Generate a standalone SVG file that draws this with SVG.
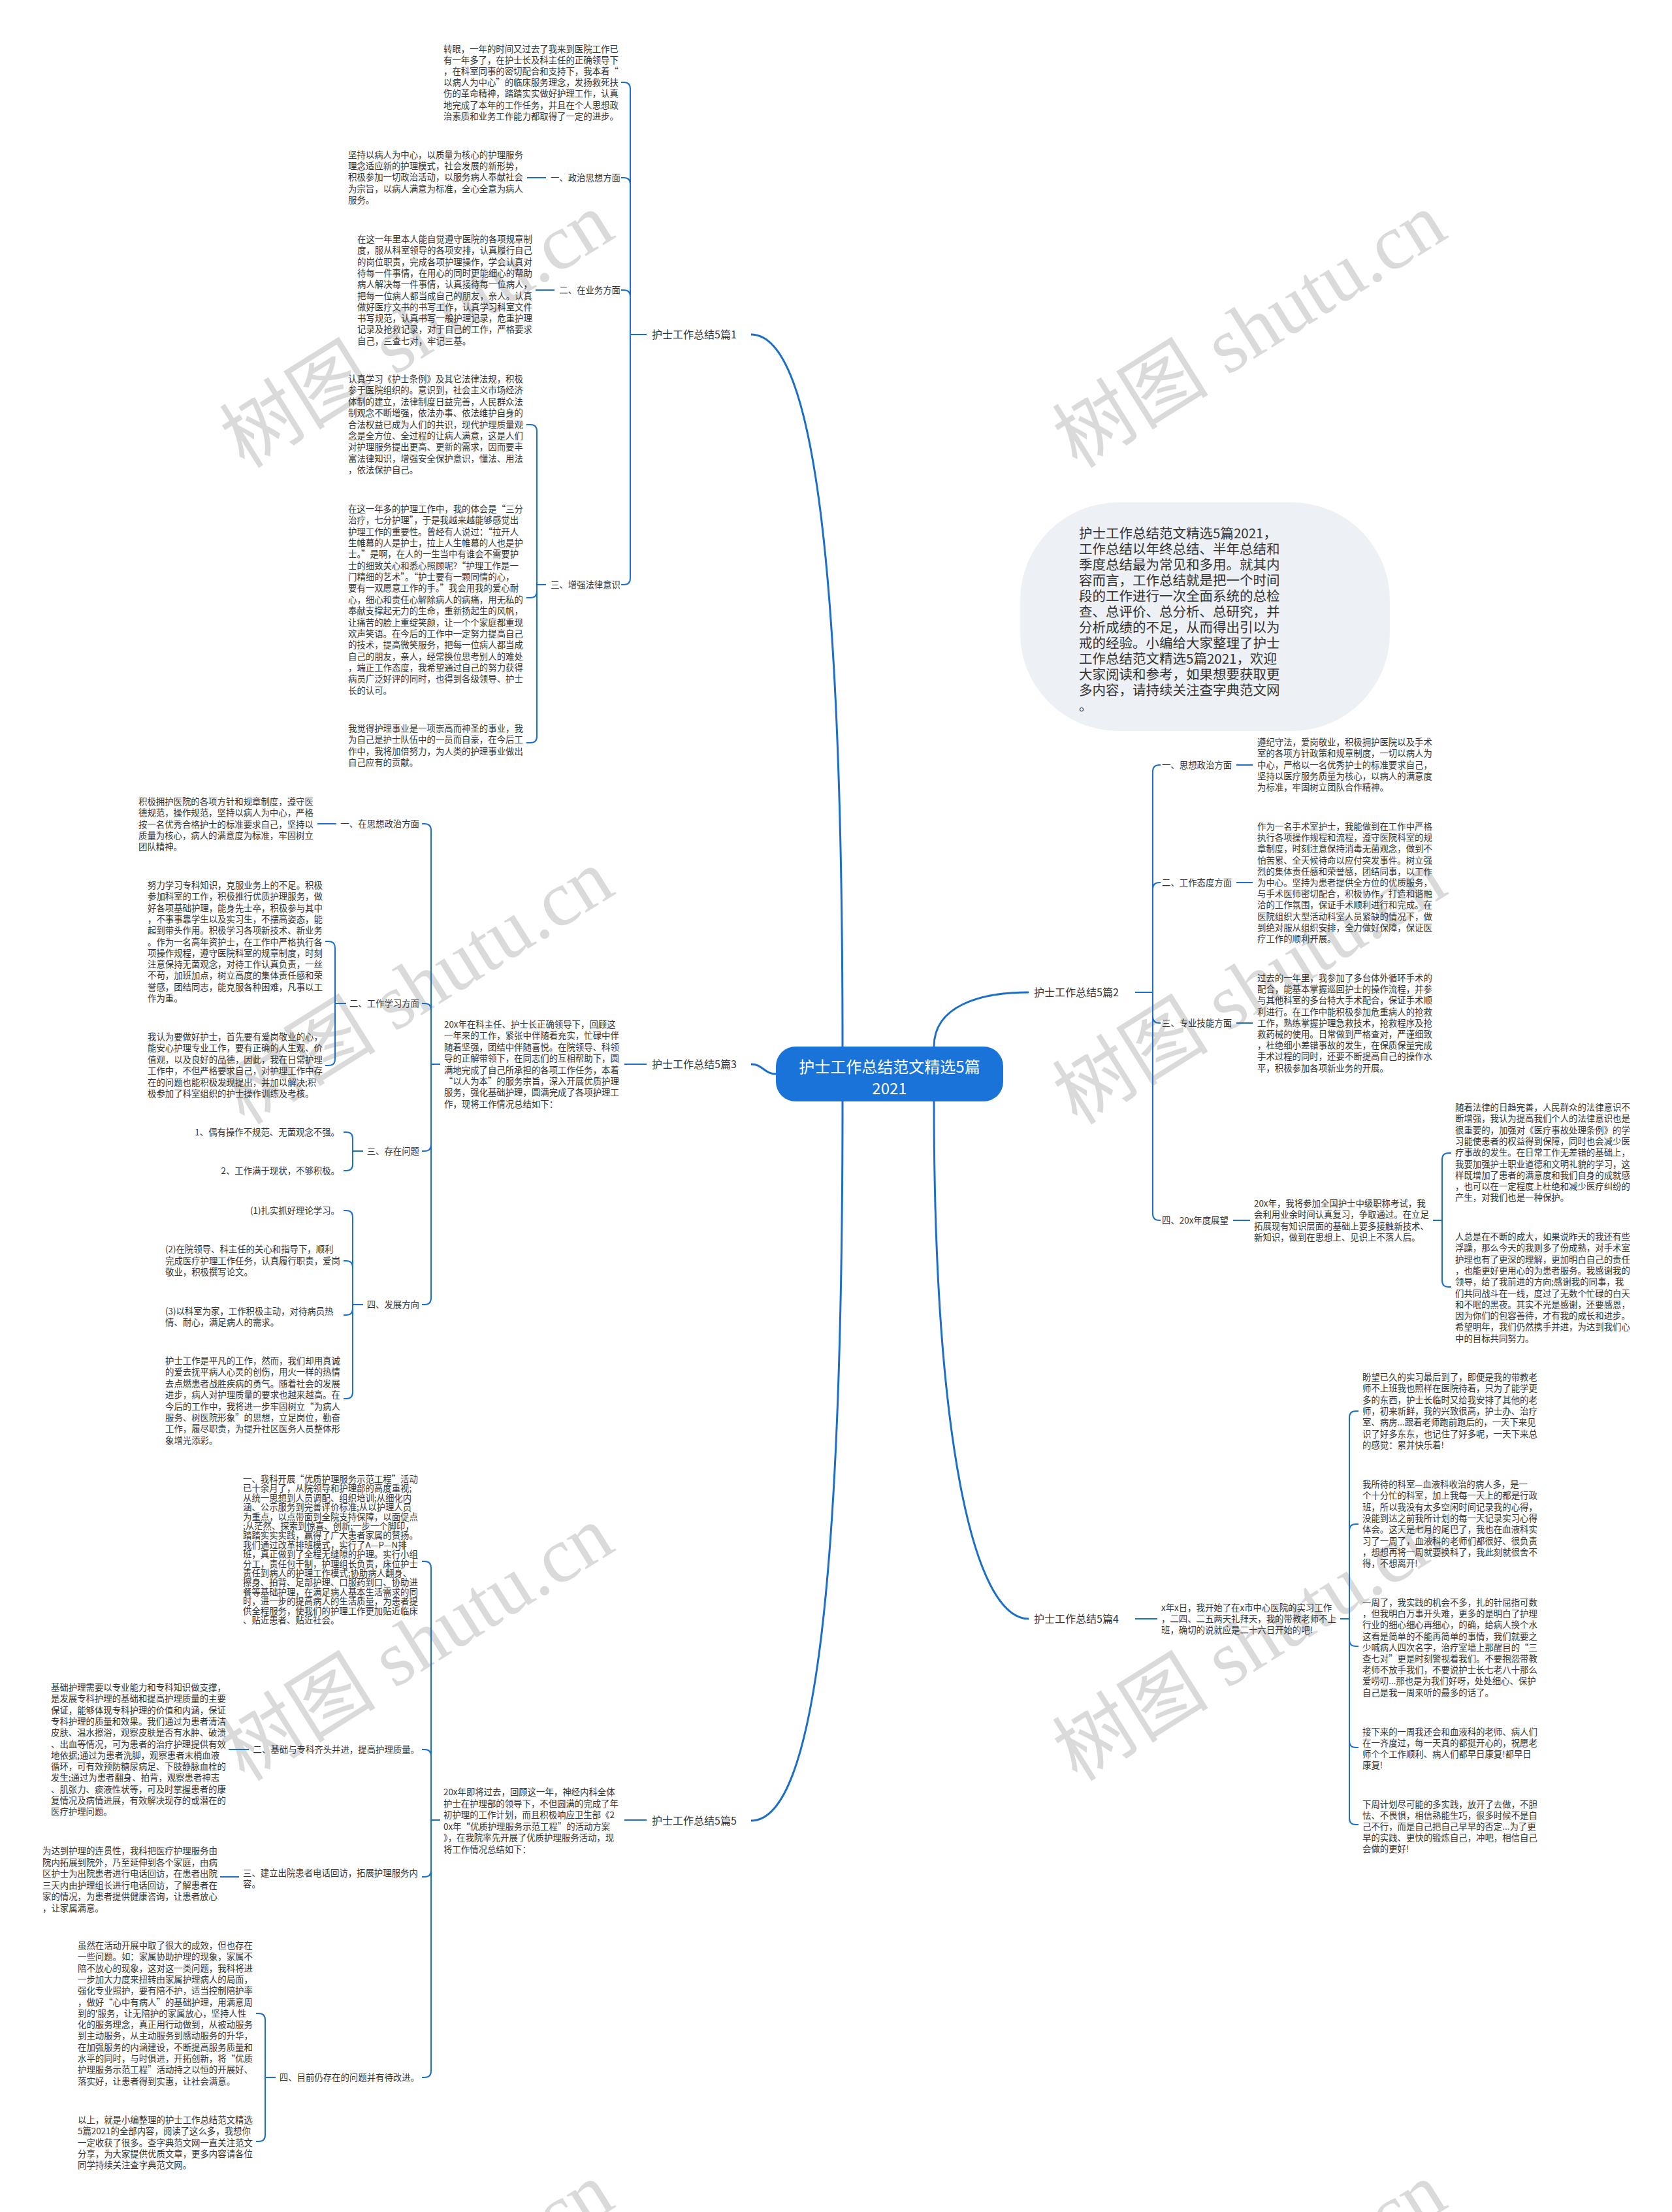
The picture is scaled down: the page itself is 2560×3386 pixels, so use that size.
<svg xmlns="http://www.w3.org/2000/svg" width="2560" height="3386" viewBox="0 0 2560 3386">
<style>
.t{font-family:"Noto Sans CJK SC","Liberation Sans",sans-serif;font-size:13.4px;fill:#333}
.e{text-anchor:end}
.b{font-family:"Noto Sans CJK SC","Liberation Sans",sans-serif;font-size:16px;fill:#333}
.w{font-family:"Liberation Serif","Noto Sans CJK SC",serif;font-size:120px;fill:#dadada;text-anchor:middle}
.c{fill:none;stroke:#1b6fc8;stroke-width:2}
.m{fill:none;stroke:#1b6fc8;stroke-width:3}
</style>
<rect width="2560" height="3386" fill="#ffffff"/>
<g id="watermarks">
<text class="w" transform="translate(660,540) rotate(-32)">树图 shutu.cn</text>
<text class="w" transform="translate(1935,540) rotate(-32)">树图 shutu.cn</text>
<text class="w" transform="translate(660,1545) rotate(-32)">树图 shutu.cn</text>
<text class="w" transform="translate(1935,1545) rotate(-32)">树图 shutu.cn</text>
<text class="w" transform="translate(660,2550) rotate(-32)">树图 shutu.cn</text>
<text class="w" transform="translate(1935,2550) rotate(-32)">树图 shutu.cn</text>
<text class="w" transform="translate(660,3555) rotate(-32)">树图 shutu.cn</text>
<text class="w" transform="translate(1935,3555) rotate(-32)">树图 shutu.cn</text>
</g>
<g id="connectors">
<path class="m" d="M1290,1602C1290,900 1250,512 1150,512"/>
<path class="m" d="M1188,1644C1170,1644 1168,1629 1150,1629"/>
<path class="m" d="M1290,1686C1290,2400 1250,2787 1150,2787"/>
<path class="m" d="M1430,1602C1430,1540 1500,1519 1575,1519"/>
<path class="m" d="M1430,1686C1430,2200 1490,2478 1575,2478"/>
<path class="c" d="M990,512H965V136Q965,126 955,126H951"/>
<path class="c" d="M990,512H965V282Q965,272 955,272H951"/>
<path class="c" d="M990,512H965V454Q965,444 955,444H951"/>
<path class="c" d="M990,512H965V885Q965,895 955,895H951"/>
<path class="c" d="M836,272H807"/>
<path class="c" d="M849,444H820"/>
<path class="c" d="M836,895H822V660Q822,650 812,650H806"/>
<path class="c" d="M836,895H822V905Q822,915 812,915H806"/>
<path class="c" d="M836,895H822V1127Q822,1137 812,1137H806"/>
<path class="c" d="M1738,1519H1765V1181Q1765,1171 1775,1171H1777"/>
<path class="c" d="M1738,1519H1765V1361Q1765,1351 1775,1351H1777"/>
<path class="c" d="M1738,1519H1765V1556Q1765,1566 1775,1566H1777"/>
<path class="c" d="M1738,1519H1765V1858Q1765,1868 1775,1868H1777"/>
<path class="c" d="M1893,1171H1918"/>
<path class="c" d="M1893,1351H1918"/>
<path class="c" d="M1893,1566H1918"/>
<path class="c" d="M1888,1868H1914"/>
<path class="c" d="M2194,1868H2208V1775Q2208,1765 2218,1765H2222"/>
<path class="c" d="M2194,1868H2208V1960Q2208,1970 2218,1970H2222"/>
<path class="c" d="M990,1629H956"/>
<path class="c" d="M674,1629H660V1271Q660,1261 650,1261H646"/>
<path class="c" d="M674,1629H660V1546Q660,1536 650,1536H646"/>
<path class="c" d="M674,1629H660V1752Q660,1762 650,1762H646"/>
<path class="c" d="M674,1629H660V1987Q660,1997 650,1997H646"/>
<path class="c" d="M515,1261H486"/>
<path class="c" d="M530,1536H513V1451Q513,1441 503,1441H498"/>
<path class="c" d="M530,1536H513V1621Q513,1631 503,1631H498"/>
<path class="c" d="M556,1762H540V1743Q540,1733 530,1733H526"/>
<path class="c" d="M556,1762H540V1782Q540,1792 530,1792H526"/>
<path class="c" d="M556,1997H540V1863Q540,1853 530,1853H526"/>
<path class="c" d="M556,1997H540V1940Q540,1930 530,1930H526"/>
<path class="c" d="M556,1997H540V2003Q540,2013 530,2013H526"/>
<path class="c" d="M556,1997H540V2131Q540,2141 530,2141H526"/>
<path class="c" d="M1738,2478H1772"/>
<path class="c" d="M2052,2478H2066V2170Q2066,2160 2076,2160H2080"/>
<path class="c" d="M2052,2478H2066V2343Q2066,2333 2076,2333H2080"/>
<path class="c" d="M2052,2478H2066V2510Q2066,2520 2076,2520H2080"/>
<path class="c" d="M2052,2478H2066V2665Q2066,2675 2076,2675H2080"/>
<path class="c" d="M2052,2478H2066V2783Q2066,2793 2076,2793H2080"/>
<path class="c" d="M990,2786H956"/>
<path class="c" d="M674,2786H660V2400Q660,2390 650,2390H646"/>
<path class="c" d="M674,2786H660V2688Q660,2678 650,2678H646"/>
<path class="c" d="M674,2786H660V2863Q660,2873 650,2873H646"/>
<path class="c" d="M674,2786H660V3170Q660,3180 650,3180H646"/>
<path class="c" d="M381,2678H350"/>
<path class="c" d="M366,2873H337"/>
<path class="c" d="M422,3180H406V3092Q406,3082 396,3082H392"/>
<path class="c" d="M422,3180H406V3268Q406,3278 396,3278H392"/>
</g>
<g id="center">
<rect x="1188" y="1602" width="348" height="84" rx="30" fill="#1a73d9"/>
<text x="1362" y="1642" text-anchor="middle" style="font-family:'Noto Sans CJK SC',sans-serif;font-size:24px;fill:#fff">护士工作总结范文精选5篇</text>
<text x="1362" y="1675" text-anchor="middle" style="font-family:'Noto Sans CJK SC',sans-serif;font-size:24px;fill:#fff">2021</text>
</g>
<g id="intro">
<rect x="1562" y="769" width="566" height="350" rx="150" ry="150" fill="#edf0f4"/>
<text x="1652" y="824" style="font-family:'Noto Sans CJK SC',sans-serif;font-size:20.5px;fill:#333"><tspan x="1652">护士工作总结范文精选5篇2021，</tspan><tspan x="1652" dy="24">工作总结以年终总结、半年总结和</tspan><tspan x="1652" dy="24">季度总结最为常见和多用。就其内</tspan><tspan x="1652" dy="24">容而言，工作总结就是把一个时间</tspan><tspan x="1652" dy="24">段的工作进行一次全面系统的总检</tspan><tspan x="1652" dy="24">查、总评价、总分析、总研究，并</tspan><tspan x="1652" dy="24">分析成绩的不足，从而得出引以为</tspan><tspan x="1652" dy="24">戒的经验。小编给大家整理了护士</tspan><tspan x="1652" dy="24">工作总结范文精选5篇2021，欢迎</tspan><tspan x="1652" dy="24">大家阅读和参考，如果想要获取更</tspan><tspan x="1652" dy="24">多内容，请持续关注查字典范文网</tspan><tspan x="1652" dy="24">。</tspan></text>
</g>
<g id="branch1"><text class="b" x="998" y="518">护士工作总结5篇1</text></g>
<g id="b1-intro"><text class="t" x="679" y="80"><tspan x="679">转眼，一年的时间又过去了我来到医院工作已</tspan><tspan x="679" dy="17.1">有一年多了，在护士长及科主任的正确领导下</tspan><tspan x="679" dy="17.1">，在科室同事的密切配合和支持下，我本着“</tspan><tspan x="679" dy="17.1">以病人为中心”的临床服务理念，发扬救死扶</tspan><tspan x="679" dy="17.1">伤的革命精神，踏踏实实做好护理工作，认真</tspan><tspan x="679" dy="17.1">地完成了本年的工作任务，并且在个人思想政</tspan><tspan x="679" dy="17.1">治素质和业务工作能力都取得了一定的进步。</tspan></text></g>
<g id="b1-1"><text class="t e" x="950" y="277">一、政治思想方面</text></g>
<g id="b1-1t"><text class="t" x="533" y="242"><tspan x="533">坚持以病人为中心，以质量为核心的护理服务</tspan><tspan x="533" dy="17.2">理念适应新的护理模式，社会发展的新形势，</tspan><tspan x="533" dy="17.2">积极参加一切政治活动，以服务病人奉献社会</tspan><tspan x="533" dy="17.2">为宗旨，以病人满意为标准，全心全意为病人</tspan><tspan x="533" dy="17.2">服务。</tspan></text></g>
<g id="b1-2"><text class="t e" x="950" y="449">二、在业务方面</text></g>
<g id="b1-2t"><text class="t" x="547" y="371"><tspan x="547">在这一年里本人能自觉遵守医院的各项规章制</tspan><tspan x="547" dy="17.3">度，服从科室领导的各项安排，认真履行自己</tspan><tspan x="547" dy="17.3">的岗位职责，完成各项护理操作，学会认真对</tspan><tspan x="547" dy="17.3">待每一件事情，在用心的同时更能细心的帮助</tspan><tspan x="547" dy="17.3">病人解决每一件事情，认真接待每一位病人，</tspan><tspan x="547" dy="17.3">把每一位病人都当成自己的朋友，亲人。认真</tspan><tspan x="547" dy="17.3">做好医疗文书的书写工作，认真学习科室文件</tspan><tspan x="547" dy="17.3">书写规范，认真书写一般护理记录，危重护理</tspan><tspan x="547" dy="17.3">记录及抢救记录，对于自己的工作，严格要求</tspan><tspan x="547" dy="17.3">自己，三查七对，牢记三基。</tspan></text></g>
<g id="b1-3"><text class="t e" x="950" y="900">三、增强法律意识</text></g>
<g id="b1-3a"><text class="t" x="533" y="585"><tspan x="533">认真学习《护士条例》及其它法律法规，积极</tspan><tspan x="533" dy="17.4">参于医院组织的。意识到，社会主义市场经济</tspan><tspan x="533" dy="17.4">体制的建立，法律制度日益完善，人民群众法</tspan><tspan x="533" dy="17.4">制观念不断增强，依法办事、依法维护自身的</tspan><tspan x="533" dy="17.4">合法权益已成为人们的共识，现代护理质量观</tspan><tspan x="533" dy="17.4">念是全方位、全过程的让病人满意，这是人们</tspan><tspan x="533" dy="17.4">对护理服务提出更高、更新的需求，因而要丰</tspan><tspan x="533" dy="17.4">富法律知识，增强安全保护意识，懂法、用法</tspan><tspan x="533" dy="17.4">，依法保护自己。</tspan></text></g>
<g id="b1-3b"><text class="t" x="533" y="784"><tspan x="533">在这一年多的护理工作中，我的体会是“三分</tspan><tspan x="533" dy="17.35">治疗，七分护理”，于是我越来越能够感觉出</tspan><tspan x="533" dy="17.35">护理工作的重要性。曾经有人说过：“拉开人</tspan><tspan x="533" dy="17.35">生帷幕的人是护士，拉上人生帷幕的人也是护</tspan><tspan x="533" dy="17.35">士。”是啊，在人的一生当中有谁会不需要护</tspan><tspan x="533" dy="17.35">士的细致关心和悉心照顾呢?“护理工作是一</tspan><tspan x="533" dy="17.35">门精细的艺术”。“护士要有一颗同情的心，</tspan><tspan x="533" dy="17.35">要有一双愿意工作的手。”我会用我的爱心耐</tspan><tspan x="533" dy="17.35">心，细心和责任心解除病人的病痛，用无私的</tspan><tspan x="533" dy="17.35">奉献支撑起无力的生命，重新扬起生的风帆，</tspan><tspan x="533" dy="17.35">让痛苦的脸上重绽笑颜，让一个个家庭都重现</tspan><tspan x="533" dy="17.35">欢声笑语。在今后的工作中一定努力提高自己</tspan><tspan x="533" dy="17.35">的技术，提高微笑服务，把每一位病人都当成</tspan><tspan x="533" dy="17.35">自己的朋友，亲人，经常换位思考别人的难处</tspan><tspan x="533" dy="17.35">，端正工作态度，我希望通过自己的努力获得</tspan><tspan x="533" dy="17.35">病员广泛好评的同时，也得到各级领导、护士</tspan><tspan x="533" dy="17.35">长的认可。</tspan></text></g>
<g id="b1-3c"><text class="t" x="533" y="1120"><tspan x="533">我觉得护理事业是一项崇高而神圣的事业，我</tspan><tspan x="533" dy="17.3">为自己是护士队伍中的一员而自豪，在今后工</tspan><tspan x="533" dy="17.3">作中，我将加倍努力，为人类的护理事业做出</tspan><tspan x="533" dy="17.3">自己应有的贡献。</tspan></text></g>
<g id="branch2"><text class="b" x="1583" y="1525">护士工作总结5篇2</text></g>
<g id="b2-1"><text class="t" x="1779" y="1176">一、思想政治方面</text></g>
<g id="b2-1t"><text class="t" x="1925" y="1141"><tspan x="1925">遵纪守法，爱岗敬业，积极拥护医院以及手术</tspan><tspan x="1925" dy="17.3">室的各项方针政策和规章制度，一切以病人为</tspan><tspan x="1925" dy="17.3">中心，严格以一名优秀护士的标准要求自己，</tspan><tspan x="1925" dy="17.3">坚持以医疗服务质量为核心，以病人的满意度</tspan><tspan x="1925" dy="17.3">为标准，牢固树立团队合作精神。</tspan></text></g>
<g id="b2-2"><text class="t" x="1779" y="1356">二、工作态度方面</text></g>
<g id="b2-2t"><text class="t" x="1925" y="1270"><tspan x="1925">作为一名手术室护士，我能做到在工作中严格</tspan><tspan x="1925" dy="17.2">执行各项操作规程和流程，遵守医院科室的规</tspan><tspan x="1925" dy="17.2">章制度，时刻注意保持消毒无菌观念，做到不</tspan><tspan x="1925" dy="17.2">怕苦累、全天候待命以应付突发事件。树立强</tspan><tspan x="1925" dy="17.2">烈的集体责任感和荣誉感，团结同事，以工作</tspan><tspan x="1925" dy="17.2">为中心。坚持为患者提供全方位的优质服务，</tspan><tspan x="1925" dy="17.2">与手术医师密切配合，积极协作，打造和谐融</tspan><tspan x="1925" dy="17.2">洽的工作氛围，保证手术顺利进行和完成。在</tspan><tspan x="1925" dy="17.2">医院组织大型活动科室人员紧缺的情况下，做</tspan><tspan x="1925" dy="17.2">到绝对服从组织安排，全力做好保障，保证医</tspan><tspan x="1925" dy="17.2">疗工作的顺利开展。</tspan></text></g>
<g id="b2-3"><text class="t" x="1779" y="1571">三、专业技能方面</text></g>
<g id="b2-3t"><text class="t" x="1925" y="1502"><tspan x="1925">过去的一年里，我参加了多台体外循环手术的</tspan><tspan x="1925" dy="17.2">配合，能基本掌握巡回护士的操作流程，并参</tspan><tspan x="1925" dy="17.2">与其他科室的多台特大手术配合，保证手术顺</tspan><tspan x="1925" dy="17.2">利进行。在工作中能积极参加危重病人的抢救</tspan><tspan x="1925" dy="17.2">工作，熟练掌握护理急救技术，抢救程序及抢</tspan><tspan x="1925" dy="17.2">救药械的使用。日常做到严格查对，严谨细致</tspan><tspan x="1925" dy="17.2">，杜绝细小差错事故的发生，在保质保量完成</tspan><tspan x="1925" dy="17.2">手术过程的同时，还要不断提高自己的操作水</tspan><tspan x="1925" dy="17.2">平，积极参加各项新业务的开展。</tspan></text></g>
<g id="b2-4"><text class="t" x="1779" y="1873">四、20x年度展望</text></g>
<g id="b2-4t"><text class="t" x="1920" y="1847"><tspan x="1920">20x年，我将参加全国护士中级职称考试，我</tspan><tspan x="1920" dy="17.3">会利用业余时间认真复习，争取通过。在立足</tspan><tspan x="1920" dy="17.3">拓展现有知识层面的基础上要多接触新技术、</tspan><tspan x="1920" dy="17.3">新知识，做到在思想上、见识上不落人后。</tspan></text></g>
<g id="b2-4a"><text class="t" x="2228" y="1700"><tspan x="2228">随着法律的日趋完善，人民群众的法律意识不</tspan><tspan x="2228" dy="17.3">断增强，我认为提高我们个人的法律意识也是</tspan><tspan x="2228" dy="17.3">很重要的，加强对《医疗事故处理条例》的学</tspan><tspan x="2228" dy="17.3">习能使患者的权益得到保障，同时也会减少医</tspan><tspan x="2228" dy="17.3">疗事故的发生。在日常工作无差错的基础上，</tspan><tspan x="2228" dy="17.3">我要加强护士职业道德和文明礼貌的学习，这</tspan><tspan x="2228" dy="17.3">样既增加了患者的满意度和我们自身的成就感</tspan><tspan x="2228" dy="17.3">，也可以在一定程度上杜绝和减少医疗纠纷的</tspan><tspan x="2228" dy="17.3">产生，对我们也是一种保护。</tspan></text></g>
<g id="b2-4b"><text class="t" x="2228" y="1898"><tspan x="2228">人总是在不断的成大，如果说昨天的我还有些</tspan><tspan x="2228" dy="17.3">浮躁，那么今天的我则多了份成熟，对手术室</tspan><tspan x="2228" dy="17.3">护理也有了更深的理解，更加明白自己的责任</tspan><tspan x="2228" dy="17.3">，也能更好更用心的为患者服务。我感谢我的</tspan><tspan x="2228" dy="17.3">领导，给了我前进的方向;感谢我的同事，我</tspan><tspan x="2228" dy="17.3">们共同战斗在一线，度过了无数个忙碌的白天</tspan><tspan x="2228" dy="17.3">和不眠的黑夜。其实不光是感谢，还要感恩，</tspan><tspan x="2228" dy="17.3">因为你们的包容善待，才有我的成长和进步。</tspan><tspan x="2228" dy="17.3">希望明年，我们仍然携手并进，为达到我们心</tspan><tspan x="2228" dy="17.3">中的目标共同努力。</tspan></text></g>
<g id="branch3"><text class="b" x="998" y="1635">护士工作总结5篇3</text></g>
<g id="b3-main"><text class="t" x="680" y="1573"><tspan x="680">20x年在科主任、护士长正确领导下，回顾这</tspan><tspan x="680" dy="17.4">一年来的工作，紧张中伴随着充实，忙碌中伴</tspan><tspan x="680" dy="17.4">随着坚强，团结中伴随喜悦。在院领导、科领</tspan><tspan x="680" dy="17.4">导的正解带领下，在同志们的互相帮助下，圆</tspan><tspan x="680" dy="17.4">满地完成了自己所承担的各项工作任务，本着</tspan><tspan x="680" dy="17.4">“以人为本”的服务宗旨，深入开展优质护理</tspan><tspan x="680" dy="17.4">服务，强化基础护理，圆满完成了各项护理工</tspan><tspan x="680" dy="17.4">作，现将工作情况总结如下：</tspan></text></g>
<g id="b3-1"><text class="t e" x="642" y="1266">一、在思想政治方面</text></g>
<g id="b3-1t"><text class="t" x="212" y="1232"><tspan x="212">积极拥护医院的各项方针和规章制度，遵守医</tspan><tspan x="212" dy="17.3">德规范，操作规范，坚持以病人为中心，严格</tspan><tspan x="212" dy="17.3">按一名优秀合格护士的标准要求自己，坚持以</tspan><tspan x="212" dy="17.3">质量为核心，病人的满意度为标准，牢固树立</tspan><tspan x="212" dy="17.3">团队精神。</tspan></text></g>
<g id="b3-2"><text class="t e" x="642" y="1541">二、工作学习方面</text></g>
<g id="b3-2a"><text class="t" x="226" y="1360"><tspan x="226">努力学习专科知识，克服业务上的不足。积极</tspan><tspan x="226" dy="17.3">参加科室的工作，积极推行优质护理服务，做</tspan><tspan x="226" dy="17.3">好各项基础护理，能身先士卒，积极参与其中</tspan><tspan x="226" dy="17.3">，不事事靠学生以及实习生，不摆高姿态，能</tspan><tspan x="226" dy="17.3">起到带头作用。积极学习各项新技术、新业务</tspan><tspan x="226" dy="17.3">。作为一名高年资护士，在工作中严格执行各</tspan><tspan x="226" dy="17.3">项操作规程，遵守医院科室的规章制度，时刻</tspan><tspan x="226" dy="17.3">注意保持无菌观念，对待工作认真负责，一丝</tspan><tspan x="226" dy="17.3">不苟，加班加点，树立高度的集体责任感和荣</tspan><tspan x="226" dy="17.3">誉感，团结同志，能克服各种困难，凡事以工</tspan><tspan x="226" dy="17.3">作为重。</tspan></text></g>
<g id="b3-2b"><text class="t" x="226" y="1592"><tspan x="226">我认为要做好护士，首先要有爱岗敬业的心，</tspan><tspan x="226" dy="17.4">能安心护理专业工作，要有正确的人生观、价</tspan><tspan x="226" dy="17.4">值观，以及良好的品德，因此，我在日常护理</tspan><tspan x="226" dy="17.4">工作中，不但严格要求自己，对护理工作中存</tspan><tspan x="226" dy="17.4">在的问题也能积极发现提出，并加以解决;积</tspan><tspan x="226" dy="17.4">极参加了科室组织的护士操作训练及考核。</tspan></text></g>
<g id="b3-3"><text class="t e" x="642" y="1767">三、存在问题</text></g>
<g id="b3-3a"><text class="t e" x="520" y="1738">1、偶有操作不规范、无菌观念不强。</text></g>
<g id="b3-3b"><text class="t e" x="520" y="1797">2、工作满于现状，不够积极。</text></g>
<g id="b3-4"><text class="t e" x="642" y="2002">四、发展方向</text></g>
<g id="b3-4a"><text class="t e" x="520" y="1858">(1)扎实抓好理论学习。</text></g>
<g id="b3-4b"><text class="t" x="253" y="1917"><tspan x="253">(2)在院领导、科主任的关心和指导下，顺利</tspan><tspan x="253" dy="17.5">完成医疗护理工作任务，认真履行职责，爱岗</tspan><tspan x="253" dy="17.5">敬业，积极撰写论文。</tspan></text></g>
<g id="b3-4c"><text class="t" x="253" y="2012"><tspan x="253">(3)以科室为家，工作积极主动，对待病员热</tspan><tspan x="253" dy="17">情、耐心，满足病人的需求。</tspan></text></g>
<g id="b3-4d"><text class="t" x="253" y="2088"><tspan x="253">护士工作是平凡的工作，然而，我们却用真诚</tspan><tspan x="253" dy="17.4">的爱去抚平病人心灵的创伤，用火一样的热情</tspan><tspan x="253" dy="17.4">去点燃患者战胜疾病的勇气。随着社会的发展</tspan><tspan x="253" dy="17.4">进步，病人对护理质量的要求也越来越高。在</tspan><tspan x="253" dy="17.4">今后的工作中，我将进一步牢固树立“为病人</tspan><tspan x="253" dy="17.4">服务、树医院形象”的思想，立足岗位，勤奋</tspan><tspan x="253" dy="17.4">工作，履尽职责，为提升社区医务人员整体形</tspan><tspan x="253" dy="17.4">象增光添彩。</tspan></text></g>
<g id="branch4"><text class="b" x="1583" y="2484">护士工作总结5篇4</text></g>
<g id="b4-main"><text class="t" x="1778" y="2466"><tspan x="1778">x年x日，我开始了在x市中心医院的实习工作</tspan><tspan x="1778" dy="17">，二四、二五两天礼拜天，我的带教老师不上</tspan><tspan x="1778" dy="17">班，确切的说就应是二十六日开始的吧!</tspan></text></g>
<g id="b4-1"><text class="t" x="2086" y="2113"><tspan x="2086">盼望已久的实习最后到了，即便是我的带教老</tspan><tspan x="2086" dy="17.3">师不上班我也照样在医院待着，只为了能学更</tspan><tspan x="2086" dy="17.3">多的东西，护士长临时又给我安排了其他的老</tspan><tspan x="2086" dy="17.3">师，初来新鲜，我的兴致很高，护士办、治疗</tspan><tspan x="2086" dy="17.3">室、病房...跟着老师跑前跑后的，一天下来见</tspan><tspan x="2086" dy="17.3">识了好多东东，也记住了好多呢，一天下来总</tspan><tspan x="2086" dy="17.3">的感觉：累并快乐着!</tspan></text></g>
<g id="b4-2"><text class="t" x="2086" y="2277"><tspan x="2086">我所待的科室—血液科收治的病人多，是一</tspan><tspan x="2086" dy="17.3">个十分忙的科室，加上我每一天上的都是行政</tspan><tspan x="2086" dy="17.3">班，所以我没有太多空闲时间记录我的心得，</tspan><tspan x="2086" dy="17.3">没能到达之前我所计划的每一天记录实习心得</tspan><tspan x="2086" dy="17.3">体会。这天是七月的尾巴了，我也在血液科实</tspan><tspan x="2086" dy="17.3">习了一周了，血液科的老师们都很好、很负责</tspan><tspan x="2086" dy="17.3">，想想再将一周就要换科了，我此刻就很舍不</tspan><tspan x="2086" dy="17.3">得，不想离开!</tspan></text></g>
<g id="b4-3"><text class="t" x="2086" y="2458"><tspan x="2086">一周了，我实践的机会不多，扎的针屈指可数</tspan><tspan x="2086" dy="17.2">，但我明白万事开头难，更多的是明白了护理</tspan><tspan x="2086" dy="17.2">行业的细心细心再细心，的确，给病人换个水</tspan><tspan x="2086" dy="17.2">这看是简单的不能再简单的事情，我们就要之</tspan><tspan x="2086" dy="17.2">少喊病人四次名字，治疗室墙上那醒目的“三</tspan><tspan x="2086" dy="17.2">查七对”更是时刻警视着我们。不要抱怨带教</tspan><tspan x="2086" dy="17.2">老师不放手我们，不要说护士长七老八十那么</tspan><tspan x="2086" dy="17.2">爱唠叨...那也是为我们好呀，处处细心、保护</tspan><tspan x="2086" dy="17.2">自己是我一周来听的最多的话了。</tspan></text></g>
<g id="b4-4"><text class="t" x="2086" y="2656"><tspan x="2086">接下来的一周我还会和血液科的老师、病人们</tspan><tspan x="2086" dy="17">在一齐度过，每一天真的都挺开心的，祝愿老</tspan><tspan x="2086" dy="17">师个个工作顺利、病人们都早日康复!都早日</tspan><tspan x="2086" dy="17">康复!</tspan></text></g>
<g id="b4-5"><text class="t" x="2086" y="2767"><tspan x="2086">下周计划尽可能的多实践，放开了去做，不胆</tspan><tspan x="2086" dy="17">怯、不畏惧，相信熟能生巧，很多时候不是自</tspan><tspan x="2086" dy="17">己不行，而是自己把自己早早的否定...为了更</tspan><tspan x="2086" dy="17">早的实践、更快的锻炼自己，冲吧，相信自己</tspan><tspan x="2086" dy="17">会做的更好!</tspan></text></g>
<g id="branch5"><text class="b" x="998" y="2793">护士工作总结5篇5</text></g>
<g id="b5-main"><text class="t" x="679" y="2748"><tspan x="679">20x年即将过去，回顾这一年，神经内科全体</tspan><tspan x="679" dy="17.6">护士在护理部的领导下，不但圆满的完成了年</tspan><tspan x="679" dy="17.6">初护理的工作计划，而且积极响应卫生部《2</tspan><tspan x="679" dy="17.6">0x年“优质护理服务示范工程”的活动方案</tspan><tspan x="679" dy="17.6">》，在我院率先开展了优质护理服务活动，现</tspan><tspan x="679" dy="17.6">将工作情况总结如下：</tspan></text></g>
<g id="b5-1"><text class="t" x="372" y="2269"><tspan x="372">一、我科开展“优质护理服务示范工程”活动</tspan><tspan x="372" dy="14.4">已十余月了，从院领导和护理部的高度重视;</tspan><tspan x="372" dy="14.4">从统一思想到人员调配、组织培训;从细化内</tspan><tspan x="372" dy="14.4">涵、公示服务到完善评价标准;从以护理人员</tspan><tspan x="372" dy="14.4">为重点，以点带面到全院支持保障，以面促点</tspan><tspan x="372" dy="14.4">;从茫然、探索到惊喜、创新;一步一个脚印，</tspan><tspan x="372" dy="14.4">踏踏实实实践，赢得了广大患者家属的赞扬。</tspan><tspan x="372" dy="14.4">我们通过改革排班模式，实行了A—P—N排</tspan><tspan x="372" dy="14.4">班，真正做到了全程无缝隙的护理。实行小组</tspan><tspan x="372" dy="14.4">分工，责任包干制，护理组长负责，床位护士</tspan><tspan x="372" dy="14.4">责任到病人的护理工作模式;协助病人翻身、</tspan><tspan x="372" dy="14.4">擦身、拍背、足部护理、口服药到口、协助进</tspan><tspan x="372" dy="14.4">餐等基础护理，在满足病人基本生活需求的同</tspan><tspan x="372" dy="14.4">时，进一步的提高病人的生活质量，为患者提</tspan><tspan x="372" dy="14.4">供全程服务，使我们的护理工作更加贴近临床</tspan><tspan x="372" dy="14.4">、贴近患者、贴近社会。</tspan></text></g>
<g id="b5-2"><text class="t e" x="642" y="2683">二、基础与专科齐头并进，提高护理质量。</text></g>
<g id="b5-2t"><text class="t" x="78" y="2588"><tspan x="78">基础护理需要以专业能力和专科知识做支撑，</tspan><tspan x="78" dy="17.3">是发展专科护理的基础和提高护理质量的主要</tspan><tspan x="78" dy="17.3">保证，能够体现专科护理的价值和内涵，保证</tspan><tspan x="78" dy="17.3">专科护理的质量和效果。我们通过为患者清洁</tspan><tspan x="78" dy="17.3">皮肤、温水擦浴，观察皮肤是否有水肿、破溃</tspan><tspan x="78" dy="17.3">、出血等情况，可为患者的治疗护理提供有效</tspan><tspan x="78" dy="17.3">地依据;通过为患者洗脚，观察患者末梢血液</tspan><tspan x="78" dy="17.3">循环，可有效预防糖尿病足、下肢静脉血栓的</tspan><tspan x="78" dy="17.3">发生;通过为患者翻身、拍背，观察患者神志</tspan><tspan x="78" dy="17.3">、肌张力、痰液性状等，可及时掌握患者的康</tspan><tspan x="78" dy="17.3">复情况及病情进展，有效解决现存的或潜在的</tspan><tspan x="78" dy="17.3">医疗护理问题。</tspan></text></g>
<g id="b5-3"><text class="t" x="372" y="2872"><tspan x="372">三、建立出院患者电话回访，拓展护理服务内</tspan><tspan x="372" dy="16.5">容。</tspan></text></g>
<g id="b5-3t"><text class="t" x="65" y="2838"><tspan x="65">为达到护理的连贯性，我科把医疗护理服务由</tspan><tspan x="65" dy="17.5">院内拓展到院外，乃至延伸到各个家庭，由病</tspan><tspan x="65" dy="17.5">区护士为出院患者进行电话回访，在患者出院</tspan><tspan x="65" dy="17.5">三天内由护理组长进行电话回访，了解患者在</tspan><tspan x="65" dy="17.5">家的情况，为患者提供健康咨询，让患者放心</tspan><tspan x="65" dy="17.5">，让家属满意。</tspan></text></g>
<g id="b5-4"><text class="t e" x="642" y="3185">四、目前仍存在的问题并有待改进。</text></g>
<g id="b5-4a"><text class="t" x="119" y="2983"><tspan x="119">虽然在活动开展中取了很大的成效，但也存在</tspan><tspan x="119" dy="17.3">一些问题。如：家属协助护理的现象，家属不</tspan><tspan x="119" dy="17.3">陪不放心的现象，这对这一类问题，我科将进</tspan><tspan x="119" dy="17.3">一步加大力度来扭转由家属护理病人的局面，</tspan><tspan x="119" dy="17.3">强化专业照护，要有陪不护，适当控制陪护率</tspan><tspan x="119" dy="17.3">，做好“心中有病人”的基础护理，用满意周</tspan><tspan x="119" dy="17.3">到的'服务，让无陪护的家属放心，坚持人性</tspan><tspan x="119" dy="17.3">化的服务理念，真正用行动做到，从被动服务</tspan><tspan x="119" dy="17.3">到主动服务，从主动服务到感动服务的升华，</tspan><tspan x="119" dy="17.3">在加强服务的内涵建设，不断提高服务质量和</tspan><tspan x="119" dy="17.3">水平的同时，与时俱进，开拓创新，将“优质</tspan><tspan x="119" dy="17.3">护理服务示范工程”活动持之以恒的开展好、</tspan><tspan x="119" dy="17.3">落实好，让患者得到实惠，让社会满意。</tspan></text></g>
<g id="b5-4b"><text class="t" x="119" y="3250"><tspan x="119">以上，就是小编整理的护士工作总结范文精选</tspan><tspan x="119" dy="17.3">5篇2021的全部内容，阅读了这么多，我想你</tspan><tspan x="119" dy="17.3">一定收获了很多。查字典范文网一直关注范文</tspan><tspan x="119" dy="17.3">分享，为大家提供优质文章，更多内容请各位</tspan><tspan x="119" dy="17.3">同学持续关注查字典范文网。</tspan></text></g>
</svg>
